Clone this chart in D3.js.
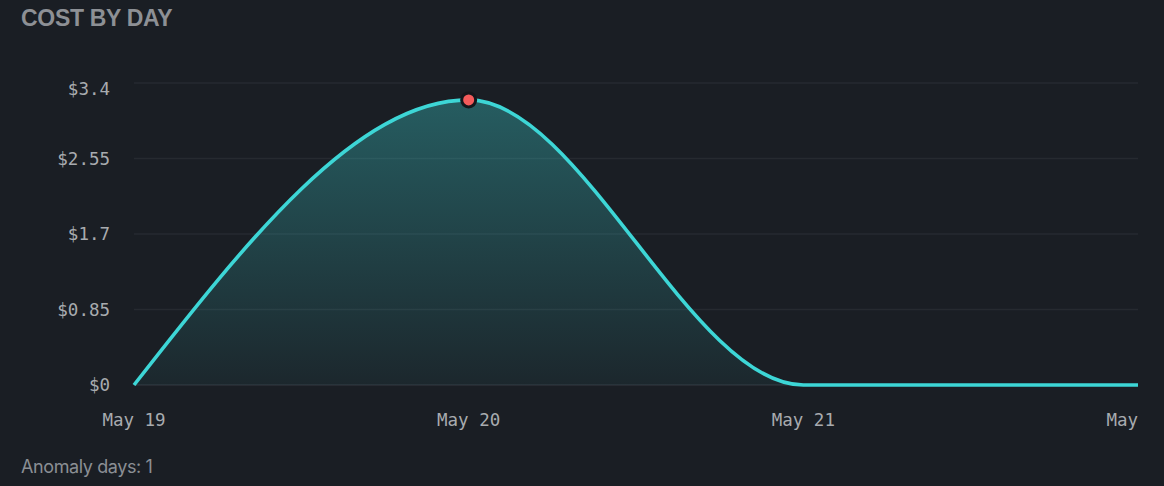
<!DOCTYPE html>
<html>
<head>
<meta charset="utf-8">
<script src="https://cdn.jsdelivr.net/npm/d3@7"></script>
<style>
  html, body { margin: 0; padding: 0; background: #1a1e24; }
  body { width: 1164px; height: 486px; overflow: hidden; position: relative; }
  .title { position: absolute; left: 21px; top: 5px; font-family: "Liberation Sans", Arial, sans-serif; font-weight: bold; font-size: 23px; color: #8d9095; letter-spacing: -0.3px; }
  .foot { position: absolute; left: 21px; top: 456px; font-family: Inter, "Noto Sans", sans-serif; font-size: 18px; color: #8b8f94; letter-spacing: -0.4px; }
  svg { position: absolute; left: 0; top: 0; }
</style>
</head>
<body>
<div class="title">COST BY DAY</div>
<svg id="chart" width="1140" height="450"></svg>
<div class="foot">Anomaly days: 1</div>
<script>
const days = ["May 19", "May 20", "May 21", "May 22"];
const costs = [0, 3.21, 0, 0];
const yTicks = [0, 0.85, 1.7, 2.55, 3.4];
const yTickLabels = ["$0", "$0.85", "$1.7", "$2.55", "$3.4"];
const anomalyDays = ["May 20"];

(function () {
const svg = d3.select("#chart");
const mLeft = 134, mRight = 1138, mTop = 83, mBottom = 385;

const x = d3.scalePoint().domain(days).range([mLeft, mRight]);
const y = d3.scaleLinear().domain([0, 3.4]).range([mBottom, mTop]);

// gridlines
svg.append("g").selectAll("line").data(yTicks).join("line")
  .attr("x1", mLeft).attr("x2", mRight)
  .attr("y1", d => y(d)).attr("y2", d => y(d))
  .attr("stroke", d => d === 0 ? "#2d3137" : "#262a30")
  .attr("stroke-width", 1.5);

// y labels
svg.append("g").selectAll("text").data(yTicks).join("text")
  .attr("x", 110)
  .attr("y", (d, i) => y(d) + (i === yTicks.length - 1 ? 6 : 0))
  .attr("dy", "0.36em")
  .attr("text-anchor", "end")
  .attr("font-family", "'DejaVu Sans Mono', monospace")
  .attr("font-size", 17.5)
  .attr("fill", "#a8abaf")
  .text((d, i) => yTickLabels[i]);

// x labels
svg.append("g").selectAll("text").data(days).join("text")
  .attr("x", d => x(d))
  .attr("y", 426)
  .attr("text-anchor", "middle")
  .attr("font-family", "'DejaVu Sans Mono', monospace")
  .attr("font-size", 17.5)
  .attr("fill", "#a8abaf")
  .text(d => d);

const data = days.map((d, i) => ({ day: d, v: costs[i] }));
const peak = d3.max(costs);

const defs = svg.append("defs");
const grad = defs.append("linearGradient").attr("id", "fillGrad")
  .attr("gradientUnits", "userSpaceOnUse")
  .attr("x1", 0).attr("x2", 0).attr("y1", y(peak)).attr("y2", mBottom);
grad.append("stop").attr("offset", 0).attr("stop-color", "#3dd6d6").attr("stop-opacity", 0.34);
grad.append("stop").attr("offset", 1).attr("stop-color", "#3dd6d6").attr("stop-opacity", 0.05);

const area = d3.area().x(d => x(d.day)).y0(mBottom).y1(d => y(d.v)).curve(d3.curveMonotoneX);
const line = d3.line().x(d => x(d.day)).y(d => y(d.v)).curve(d3.curveMonotoneX);

svg.append("path").datum(data).attr("d", area).attr("fill", "url(#fillGrad)");
svg.append("path").datum(data).attr("d", line)
  .attr("fill", "none").attr("stroke", "#3dd6d6").attr("stroke-width", 3.6);

svg.append("g").selectAll("circle").data(data.filter(d => anomalyDays.includes(d.day))).join("circle")
  .attr("cx", d => x(d.day)).attr("cy", d => y(d.v))
  .attr("r", 7)
  .attr("fill", "#f45b5b")
  .attr("stroke", "#14171c").attr("stroke-width", 3);
})();
</script>
</body>
</html>
